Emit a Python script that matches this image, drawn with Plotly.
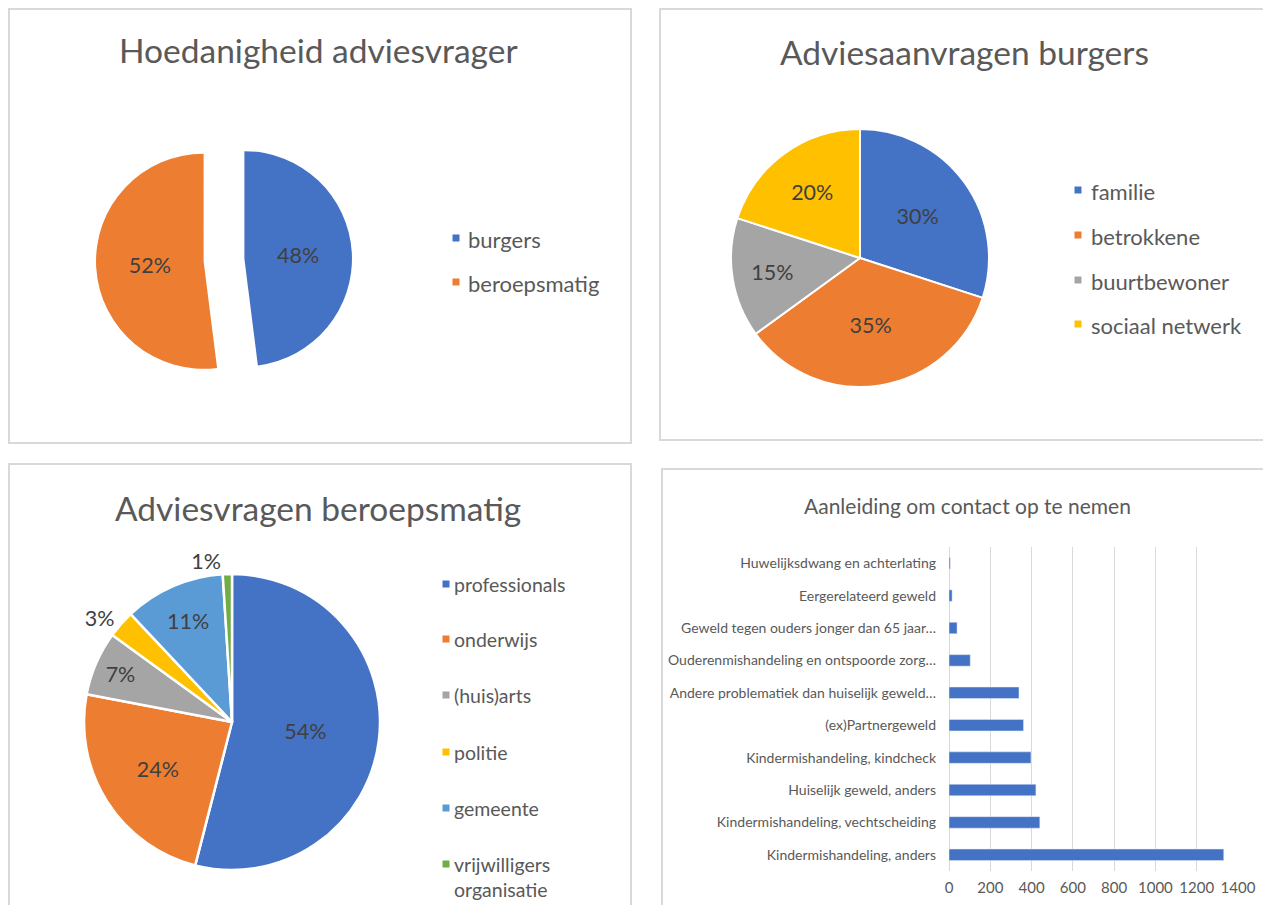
import plotly.graph_objects as go

# ---------------- data ----------------
pie1_title = "Hoedanigheid adviesvrager"
pie1_labels = ["burgers", "beroepsmatig"]
pie1_values = [48, 52]
pie1_colors = ["#4472C4", "#ED7D31"]

pie2_title = "Adviesaanvragen burgers"
pie2_labels = ["familie", "betrokkene", "buurtbewoner", "sociaal netwerk"]
pie2_values = [30, 35, 15, 20]
pie2_colors = ["#4472C4", "#ED7D31", "#A5A5A5", "#FFC000"]

pie3_title = "Adviesvragen beroepsmatig"
pie3_labels = ["professionals", "onderwijs", "(huis)arts", "politie", "gemeente",
               "vrijwilligers organisatie"]
pie3_values = [54, 24, 7, 3, 11, 1]
pie3_colors = ["#4472C4", "#ED7D31", "#A5A5A5", "#FFC000", "#5B9BD5", "#70AD47"]

bar_title = "Aanleiding om contact op te nemen"
bar_categories = [  # bottom to top
    "Kindermishandeling, anders",
    "Kindermishandeling, vechtscheiding",
    "Huiselijk geweld, anders",
    "Kindermishandeling, kindcheck",
    "(ex)Partnergeweld",
    "Andere problematiek dan huiselijk geweld…",
    "Ouderenmishandeling en ontspoorde zorg…",
    "Geweld tegen ouders jonger dan 65 jaar…",
    "Eergerelateerd geweld",
    "Huwelijksdwang en achterlating",
]
bar_values = [1331, 440, 421, 397, 361, 339, 103, 39, 15, 6]
bar_color = "#4472C4"
bar_ticks = [0, 200, 400, 600, 800, 1000, 1200, 1400]

# ---------------- helpers (layout only) ----------------
PAGE_MARGIN = 8          # default body margin of the html page
W, H = 1271 - 2 * PAGE_MARGIN, 913 - 2 * PAGE_MARGIN
FONT = "Lato"
TITLE_COLOR = "#595959"
TEXT_COLOR = "#404040"


def fx(px):
    return (px - PAGE_MARGIN) / W


def fy(py):
    return 1 - (py - PAGE_MARGIN) / H


def pie_domain(cx, cy, half):
    return dict(x=[fx(cx - half), fx(cx + half)], y=[fy(cy + half), fy(cy - half)])


fig = go.Figure()

# Pie 1 (exploded)
fig.add_trace(go.Pie(
    labels=pie1_labels, values=pie1_values, sort=False, direction="clockwise", rotation=0,
    marker=dict(colors=pie1_colors, line=dict(color="white", width=0)),
    pull=[0.19] * len(pie1_values),
    textinfo="percent", textposition="inside", insidetextorientation="horizontal",
    textfont=dict(family=FONT, size=21.5, color=TEXT_COLOR),
    domain=pie_domain(224, 260, 128), showlegend=False,
))

# Pie 2
fig.add_trace(go.Pie(
    labels=pie2_labels, values=pie2_values, sort=False, direction="clockwise", rotation=0,
    marker=dict(colors=pie2_colors, line=dict(color="white", width=2)),
    textinfo="percent", textposition="inside", insidetextorientation="horizontal",
    textfont=dict(family=FONT, size=21.5, color=TEXT_COLOR),
    domain=pie_domain(860, 258, 129), showlegend=False,
))

# Pie 3
pie3_pos = ["outside" if v < 5 else "inside" for v in pie3_values]
fig.add_trace(go.Pie(
    labels=pie3_labels, values=pie3_values, sort=False, direction="clockwise", rotation=0,
    marker=dict(colors=pie3_colors, line=dict(color="white", width=2.5)),
    textinfo="percent", textposition=pie3_pos, insidetextorientation="horizontal",
    textfont=dict(family=FONT, size=21.5, color=TEXT_COLOR),
    domain=pie_domain(232, 722, 148), showlegend=False,
))

# Bar chart
fig.add_trace(go.Bar(
    y=bar_categories, x=bar_values, orientation="h",
    marker=dict(color=bar_color), showlegend=False,
))

shapes = []
annotations = []

# panel borders
for x0, y0, x1, y1 in [(9, 9, 631, 443), (660, 9, 1285, 440), (9, 464, 631, 930), (662, 469, 1285, 930)]:
    shapes.append(dict(type="rect", xref="paper", yref="paper",
                       x0=fx(x0), x1=fx(x1), y0=fy(y1), y1=fy(y0),
                       line=dict(color="#D9D9D9", width=2), fillcolor="rgba(0,0,0,0)", layer="below"))

# titles
for text, cx, cy, size in [(pie1_title, 318, 50, 33.5), (pie2_title, 964, 52, 33.5),
                           (pie3_title, 318, 508, 33.5), (bar_title, 967, 505, 21)]:
    annotations.append(dict(text=text, x=fx(cx), y=fy(cy), xref="paper", yref="paper",
                            xanchor="center", yanchor="middle", showarrow=False,
                            font=dict(family=FONT, size=size, color=TITLE_COLOR)))


# custom legends built from the data lists
def add_legend(labels, colors, mx, tx, ys, size):
    for lab, col, yy in zip(labels, colors, ys):
        s = 3.5
        shapes.append(dict(type="rect", xref="paper", yref="paper",
                           x0=fx(mx - s), x1=fx(mx + s), y0=fy(yy + s), y1=fy(yy - s),
                           line=dict(width=0), fillcolor=col))
        txt = lab.replace(" ", "<br>") if len(lab) > 16 else lab
        annotations.append(dict(text=txt, x=fx(tx), y=fy(yy - size * 0.65), xref="paper", yref="paper",
                                xanchor="left", yanchor="top", align="left", showarrow=False,
                                font=dict(family=FONT, size=size, color=TITLE_COLOR)))


add_legend(pie1_labels, pie1_colors, 456, 466, [238, 282], 22)
add_legend(pie2_labels, pie2_colors, 1078, 1089, [190, 235, 280, 324], 22)
add_legend(pie3_labels, pie3_colors, 446, 452, [584, 639, 695, 752, 808, 864], 19.5)

fig.update_layout(
    width=W, height=H, margin=dict(l=0, r=0, t=0, b=0, autoexpand=False),
    paper_bgcolor="white", plot_bgcolor="white",
    shapes=shapes, annotations=annotations,
    bargap=0.645,
    xaxis=dict(domain=[fx(949), fx(1238)], range=[0, 1400], tickvals=bar_ticks,
               showgrid=True, gridcolor="#D9D9D9", gridwidth=1, zeroline=True,
               zerolinecolor="#D9D9D9", zerolinewidth=1, showline=False, automargin=False,
               ticklabelstandoff=6,
               tickfont=dict(family=FONT, size=15, color=TITLE_COLOR), ticks="", anchor="y"),
    yaxis=dict(domain=[fy(871), fy(547)], showgrid=False, zeroline=False, showline=False,
               ticks="", ticklabelstandoff=12, automargin=False,
               tickfont=dict(family=FONT, size=14, color=TITLE_COLOR), anchor="x"),
    font=dict(family=FONT),
)

fig.write_html("out.html")
